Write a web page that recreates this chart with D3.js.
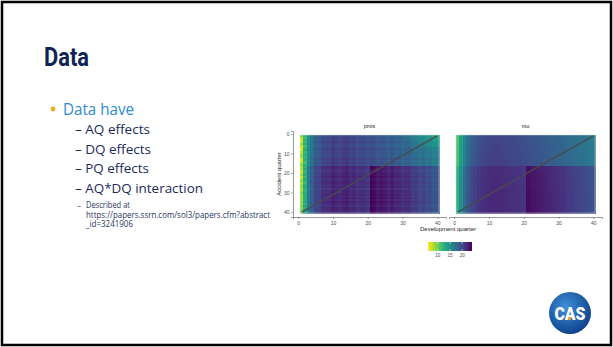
<!DOCTYPE html>
<html>
<head>
<meta charset="utf-8">
<script src="https://cdn.jsdelivr.net/npm/d3@7"></script>
<style>
  body { margin: 0; background: #fff; }
  svg { display: block; }
</style>
</head>
<body>
<div id="slide"></div>
<script>
// ---- data ----
const accQuarters = d3.range(1, 41);
const devQuarters = d3.range(1, 41);

// mu: development-quarter effect (upper accident quarters)
const muByDQ = [10.8, 13.5, 15.8, 17.4, 18.4, 19.0, 19.5, 19.8, 20.0, 20.2,
                20.3, 20.3, 20.3, 20.2, 20.1, 20.0, 19.9, 19.8, 19.7, 19.6,
                19.5, 19.3, 19.2, 19.0, 18.9, 18.7, 18.6, 18.4, 18.3, 18.1,
                18.0, 17.8, 17.6, 17.5, 17.3, 17.1, 17.0, 16.8, 16.6, 16.5];
// mu: accident-quarter shift
const muByAQ = [0, 0, 0.1, 0.1, 0.1, 0.2, 0.2, 0.2, 0.2, 0.3,
                0.3, 0.3, 0.3, 0.3, 0.4, 0.4, 1.5, 1.5, 1.5, 1.5,
                1.6, 1.6, 1.6, 1.6, 1.6, 1.6, 1.6, 1.6, 1.7, 1.7,
                1.7, 1.7, 1.7, 1.7, 1.7, 1.7, 1.7, 1.7, 1.7, 1.7];
// AQ*DQ interaction block
const interAQ = [0, 0, 0, 0, 0, 0, 0, 0, 0, 0, 0, 0, 0, 0, 0, 0,
                 1, 1, 1, 1, 1, 1, 1, 1, 1, 1, 1, 1, 1, 1, 1, 1, 1, 1, 1, 1, 1, 1, 1, 1];
const interDQ = [0, 0, 0, 0, 0, 0, 0, 0, 0, 0, 0, 0, 0, 0, 0, 0, 0, 0, 0, 0,
                 2.3, 2.3, 2.2, 2.2, 2.1, 2.1, 2.0, 2.0, 1.9, 1.9,
                 1.8, 1.8, 1.7, 1.7, 1.6, 1.6, 1.5, 1.5, 1.4, 1.4];

// pmis: first two development quarters, by accident quarter
const pmisDQ1 = [9.5, 8.0, 6.8, 7.5, 8.8, 7.2, 7.0, 6.6, 8.2, 7.4,
                 9.0, 8.5, 7.0, 6.9, 8.0, 9.2, 7.8, 8.4, 7.1, 7.6,
                 8.9, 7.3, 8.1, 9.4, 7.7, 8.6, 9.0, 7.9, 8.3, 9.6,
                 8.8, 8.0, 9.1, 8.4, 9.3, 8.7, 9.5, 8.9, 9.8, 9.2];
const pmisDQ2 = [12.0, 11.5, 12.5, 11.8, 12.8, 11.2, 12.2, 12.9, 11.6, 12.4,
                 13.0, 11.9, 12.6, 12.1, 11.4, 12.7, 12.3, 13.1, 11.8, 12.5,
                 12.9, 12.0, 13.3, 12.4, 11.9, 12.8, 13.2, 12.6, 12.2, 13.0,
                 12.7, 13.4, 12.5, 12.9, 13.1, 12.3, 13.5, 12.8, 13.0, 13.2];
// pmis residuals around mu
const pmisColResid = [0, 0, -0.8, -0.5, 0.2, -0.3, 0.3, 0.1, -0.2, 0.4,
                      0.0, -0.3, 0.2, 0.5, -0.1, 0.3, -0.4, 0.1, 0.2, -0.2,
                      0.4, 0.1, -0.3, 0.2, 0.0, -0.4, 0.3, -0.1, 0.2, -0.3,
                      0.1, 0.4, -0.2, 0.0, -0.5, 0.2, -0.4, -0.1, -0.6, -0.3];
const pmisRowResid = [-0.3, 0.2, -0.1, 0.3, 0.0, -0.4, 0.2, 0.1, -0.2, 0.3,
                      -0.3, 0.0, 0.4, -0.1, 0.2, -0.2, 0.3, 0.1, -0.3, 0.2,
                      0.0, 0.4, -0.2, 0.1, 0.3, -0.1, 0.2, -0.4, 0.1, 0.0,
                      0.3, -0.2, 0.2, -0.1, 0.4, 0.0, -0.3, 0.2, 0.1, -0.2];
// lighter top-right corner of pmis: AQ 1-8, DQ 31-40
const pmisCorner = [
  [-0.8, -1.2, -1.0, -1.6, -1.4, -2.0, -1.8, -2.4, -2.2, -2.6],
  [-0.6, -1.0, -1.4, -1.2, -1.8, -1.6, -2.2, -2.0, -2.6, -2.4],
  [-0.4, -0.8, -1.0, -1.4, -1.2, -1.8, -2.0, -1.8, -2.2, -2.0],
  [-0.2, -0.6, -0.8, -1.0, -1.2, -1.4, -1.6, -1.8, -1.6, -1.8],
  [0, -0.4, -0.6, -0.8, -0.6, -1.0, -1.2, -1.4, -1.2, -1.6],
  [0, -0.2, -0.4, -0.6, -0.4, -0.8, -1.0, -0.8, -1.2, -1.0],
  [0, 0, -0.2, -0.4, -0.2, -0.6, -0.4, -0.8, -0.6, -0.8],
  [0, 0, 0, -0.2, 0, -0.4, -0.2, -0.4, -0.2, -0.6]
];

// diagonal (evaluation line)
const diagDQ = [1, 40];
const diagAQ = [40, 1];

const panels = ['pmis', 'mu'];
const axisTicks = [0, 10, 20, 30, 40];
const legendRange = [6, 24];
const legendTicks = [10, 15, 20];

const bullets = ['– AQ effects', '– DQ effects', '– PQ effects', '– AQ*DQ interaction'];
const noteLines = ['Described at', 'https://papers.ssrn.com/sol3/papers.cfm?abstract', '_id=3241906'];

// ---- build cell tables ----
function muValue(a, d) {
  return muByDQ[d] + muByAQ[a] + interAQ[a] * interDQ[d];
}
function pmisValue(a, d) {
  if (d === 0) return pmisDQ1[a];
  if (d === 1) return pmisDQ2[a];
  let v = muValue(a, d) + pmisColResid[d] + pmisRowResid[a];
  if (a < pmisCorner.length && d >= 30) v += pmisCorner[a][d - 30];
  return v;
}
const cells = {pmis: [], mu: []};
accQuarters.forEach((aq, a) => {
  devQuarters.forEach((dq, d) => {
    cells.pmis.push({aq, dq, value: pmisValue(a, d)});
    cells.mu.push({aq, dq, value: muValue(a, d)});
  });
});

// ---- slide ----
const W = 613, H = 347;
const svg = d3.select('#slide').append('svg').attr('width', W).attr('height', H);

svg.append('rect').attr('x', 2).attr('y', 2).attr('width', W - 4).attr('height', H - 4)
  .attr('fill', '#fff').attr('stroke', '#000').attr('stroke-width', 2.5);

svg.append('text').attr('x', 44).attr('y', 66).text('Data')
  .attr('font-family', 'Roboto, sans-serif').attr('font-weight', 700).attr('font-size', 26)
  .attr('fill', '#0f2456').attr('textLength', 45).attr('lengthAdjust', 'spacingAndGlyphs');

svg.append('circle').attr('cx', 53).attr('cy', 109).attr('r', 2.4).attr('fill', '#f5a623');
svg.append('text').attr('x', 63).attr('y', 115).text('Data have')
  .attr('font-family', '"Open Sans", sans-serif').attr('font-size', 17)
  .attr('fill', '#2e8bd0').attr('textLength', 71).attr('lengthAdjust', 'spacingAndGlyphs');

const bulletWidths = [75, 76, 74, 128];
bullets.forEach((t, i) => {
  svg.append('text').attr('x', 75).attr('y', 134 + i * 19.6).text(t)
    .attr('font-family', '"Open Sans", sans-serif').attr('font-size', 13.5)
    .attr('fill', '#1b2a5c').attr('textLength', bulletWidths[i]).attr('lengthAdjust', 'spacingAndGlyphs');
});

svg.append('text').attr('x', 77).attr('y', 208).text('–')
  .attr('font-family', '"Open Sans", sans-serif').attr('font-size', 8).attr('fill', '#2a3560');
const noteWidths = [44, 184, 47];
noteLines.forEach((t, i) => {
  svg.append('text').attr('x', 86).attr('y', 208 + i * 9.5).text(t)
    .attr('font-family', '"Open Sans", sans-serif').attr('font-size', 8.5)
    .attr('fill', '#2a3560').attr('textLength', noteWidths[i]).attr('lengthAdjust', 'spacingAndGlyphs');
});

// ---- chart ----
const color = v => d3.interpolateViridis(1 - (v - legendRange[0]) / (legendRange[1] - legendRange[0]));
const yScale = d3.scaleLinear().domain([-1.5, 42.5]).range([131, 217]);
const panelX = {
  pmis: d3.scaleLinear().domain([-1.5, 42.5]).range([293, 446]),
  mu: d3.scaleLinear().domain([-1.5, 42.5]).range([449, 602])
};
const font = '"Liberation Sans", Arial, sans-serif';

panels.forEach(p => {
  const x = panelX[p];
  const g = svg.append('g');
  const cw = x(1) - x(0), ch = yScale(1) - yScale(0);
  g.append('g').attr('shape-rendering', 'crispEdges')
    .selectAll('rect').data(cells[p]).enter().append('rect')
    .attr('x', d => x(d.dq - 0.5)).attr('y', d => yScale(d.aq - 0.5))
    .attr('width', cw + 0.6).attr('height', ch + 0.6)
    .attr('fill', d => color(d.value));

  g.append('rect').attr('x', x(0.5)).attr('y', yScale(0.5))
    .attr('width', x(40.5) - x(0.5)).attr('height', yScale(40.5) - yScale(0.5))
    .attr('fill', 'none').attr('stroke', '#e4e4e4').attr('stroke-width', 0.6);

  const line = d3.line().x(d => x(d[0])).y(d => yScale(d[1]));
  g.append('path').datum(diagDQ.map((dq, i) => [dq, diagAQ[i]]))
    .attr('d', line).attr('stroke', '#4a4a4a').attr('stroke-width', 1.6)
    .attr('stroke-opacity', 0.9).attr('fill', 'none');

  const xAxis = g.append('g').attr('transform', 'translate(0,217)')
    .call(d3.axisBottom(x).tickValues(axisTicks).tickSize(2).tickPadding(2));
  xAxis.select('.domain').attr('stroke', '#555').attr('stroke-width', 0.6);
  xAxis.selectAll('.tick line').attr('stroke', '#555').attr('stroke-width', 0.5);
  xAxis.selectAll('text').attr('font-family', font).attr('font-size', 5).attr('fill', '#4d4d4d');

  g.append('text').attr('x', (x.range()[0] + x.range()[1]) / 2).attr('y', 128).text(p)
    .attr('text-anchor', 'middle').attr('font-family', font).attr('font-size', 5.5).attr('fill', '#1a1a1a');
});

const yAxis = svg.append('g').attr('transform', 'translate(293,0)')
  .call(d3.axisLeft(yScale).tickValues(axisTicks).tickSize(2).tickPadding(1.5));
yAxis.select('.domain').attr('stroke', '#555').attr('stroke-width', 0.6);
yAxis.selectAll('.tick line').attr('stroke', '#555').attr('stroke-width', 0.5);
yAxis.selectAll('text').attr('font-family', font).attr('font-size', 5).attr('fill', '#4d4d4d');

svg.append('text').attr('transform', 'translate(281,174) rotate(-90)').text('Accident quarter')
  .attr('text-anchor', 'middle').attr('font-family', font).attr('font-size', 6).attr('fill', '#1a1a1a');
svg.append('text').attr('x', 448).attr('y', 231).text('Development quarter')
  .attr('text-anchor', 'middle').attr('font-family', font).attr('font-size', 6).attr('fill', '#1a1a1a');

// legend colourbar
const lx = d3.scaleLinear().domain(legendRange).range([428, 472]);
const defs = svg.append('defs');
const grad = defs.append('linearGradient').attr('id', 'vir');
d3.range(0, 1.01, 0.1).forEach(t => {
  grad.append('stop').attr('offset', t).attr('stop-color', d3.interpolateViridis(1 - t));
});
svg.append('rect').attr('x', 428).attr('y', 242).attr('width', 44).attr('height', 9).attr('fill', 'url(#vir)');
legendTicks.forEach(t => {
  svg.append('line').attr('x1', lx(t)).attr('x2', lx(t)).attr('y1', 242).attr('y2', 244)
    .attr('stroke', '#fff').attr('stroke-width', 0.5);
  svg.append('line').attr('x1', lx(t)).attr('x2', lx(t)).attr('y1', 249).attr('y2', 251)
    .attr('stroke', '#fff').attr('stroke-width', 0.5);
  svg.append('text').attr('x', lx(t)).attr('y', 257).text(t).attr('text-anchor', 'middle')
    .attr('font-family', font).attr('font-size', 4.5).attr('fill', '#4d4d4d');
});

// CAS logo
const logo = defs.append('radialGradient').attr('id', 'casg').attr('cx', '40%').attr('cy', '35%').attr('r', '70%');
logo.append('stop').attr('offset', 0).attr('stop-color', '#3f8fd8');
logo.append('stop').attr('offset', 1).attr('stop-color', '#0b3f88');
svg.append('circle').attr('cx', 570).attr('cy', 313).attr('r', 21).attr('fill', 'url(#casg)');
svg.append('text').attr('x', 570).attr('y', 320).text('CAS').attr('text-anchor', 'middle')
  .attr('font-family', 'Roboto, sans-serif').attr('font-weight', 900).attr('font-size', 18)
  .attr('fill', '#fff').attr('textLength', 31).attr('lengthAdjust', 'spacingAndGlyphs');
svg.append('circle').attr('cx', 569.5).attr('cy', 318.5).attr('r', 1.7).attr('fill', '#f5a623');
</script>
</body>
</html>
